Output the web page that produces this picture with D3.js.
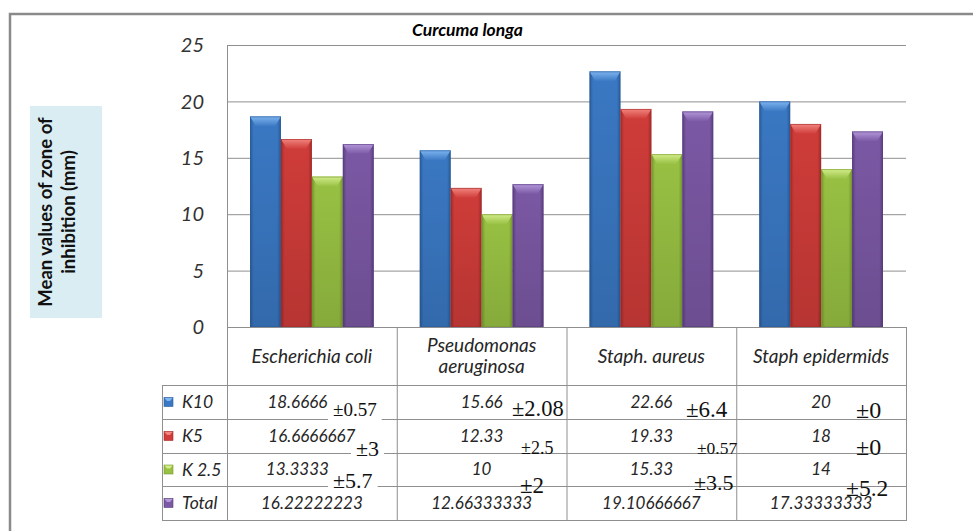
<!DOCTYPE html>
<html><head><meta charset="utf-8">
<script src="https://cdn.jsdelivr.net/npm/d3@7"></script>
<style>
html,body{margin:0;padding:0;background:#fff;overflow:hidden}
svg{display:block}
</style></head>
<body>
<script>
// ---------- data ----------
const categories = ["Escherichia coli", "Pseudomonas aeruginosa", "Staph. aureus", "Staph epidermids"];
const headerLines = [["Escherichia coli"], ["Pseudomonas", "aeruginosa"], ["Staph. aureus"], ["Staph epidermids"]];
const seriesNames = ["K10", "K5", "K 2.5", "Total"];
const k10 = [18.6666, 15.66, 22.66, 20];
const k5 = [16.6666667, 12.33, 19.33, 18];
const k25 = [13.3333, 10, 15.33, 14];
const total = [16.22222223, 12.66333333, 19.10666667, 17.33333333];
// table labels as printed
const k10Labels = ["18.6666", "15.66", "22.66", "20"];
const k5Labels = ["16.6666667", "12.33", "19.33", "18"];
const k25Labels = ["13.3333", "10", "15.33", "14"];
const totalLabels = ["16.22222223", "12.66333333", "19.10666667", "17.33333333"];
// ± annotations (row, column)
const errK10 = ["±0.57", "±2.08", "±6.4", "±0"];
const errK5 = ["±3", "±2.5", "±0.57", "±0"];
const errK25 = ["±5.7", "±2", "±3.5", "±5.2"];
const yTicks = [0, 5, 10, 15, 20, 25];
const titleText = "Curcuma longa";
const yTitle = ["Mean values of zone of", "inhibition (mm)"];

const seriesValues = [k10, k5, k25, total];
const seriesLabels = [k10Labels, k5Labels, k25Labels, totalLabels];
const errRows = [errK10, errK5, errK25];

// ---------- styles / layout ----------
const W = 973, H = 531;
const colors = [
  {base:"#3a78c3", light:"#7fb5f0", dark:"#2a5c99"},
  {base:"#cf3c39", light:"#f2857f", dark:"#a22b29"},
  {base:"#98c143", light:"#d3ec8c", dark:"#76972f"},
  {base:"#7b58a4", light:"#b398da", dark:"#5a3e80"}
];
const plot = {left:227, right:906, top:45, bottom:327};
const legendLeft = 162;
const rowLines = [385, 419, 453, 486, 520];
const gridColor = "#8f8f8f";

const svg = d3.select("body").append("svg").attr("width", W).attr("height", H);
const defs = svg.append("defs");
colors.forEach((c, i) => {
  const g = defs.append("linearGradient").attr("id", "bar" + i).attr("x1", "0").attr("x2", "1").attr("y1", "0").attr("y2", "0");
  g.append("stop").attr("offset", "0").attr("stop-color", c.dark);
  g.append("stop").attr("offset", "0.12").attr("stop-color", c.base);
  g.append("stop").attr("offset", "0.5").attr("stop-color", c.base);
  g.append("stop").attr("offset", "0.88").attr("stop-color", c.base);
  g.append("stop").attr("offset", "1").attr("stop-color", c.dark);
  const v = defs.append("linearGradient").attr("id", "bev" + i).attr("x1", "0").attr("x2", "0").attr("y1", "0").attr("y2", "1");
  v.append("stop").attr("offset", "0").attr("stop-color", c.light);
  v.append("stop").attr("offset", "1").attr("stop-color", c.base);
  const sh = defs.append("linearGradient").attr("id", "shade" + i).attr("x1", "0").attr("x2", "0").attr("y1", "0").attr("y2", "1");
  sh.append("stop").attr("offset", "0").attr("stop-color", "#000").attr("stop-opacity", 0);
  sh.append("stop").attr("offset", "1").attr("stop-color", "#000").attr("stop-opacity", 0.12);
});

// outer chart border (clipped by window on right/bottom)
svg.append("rect").attr("x", 10).attr("y", 14).attr("width", 1100).attr("height", 700)
  .attr("fill", "none").attr("stroke", "#8a8a8a").attr("stroke-width", 2.5);

// scales
const x0 = d3.scaleBand().domain(categories).range([plot.left, plot.right]).padding(0);
const x1 = d3.scaleBand().domain(seriesNames).range([23, x0.bandwidth() - 23]).padding(0);
const y = d3.scaleLinear().domain([0, 25]).range([plot.bottom, plot.top]);

// gridlines
svg.append("g").selectAll("line").data(yTicks).join("line")
  .attr("x1", plot.left).attr("x2", plot.right)
  .attr("y1", d => y(d) + 0.5).attr("y2", d => y(d) + 0.5)
  .attr("stroke", gridColor).attr("stroke-width", 1);

// y axis ticks labels
svg.append("g").selectAll("text").data(yTicks).join("text")
  .attr("x", 204).attr("y", d => y(d)).attr("dy", "0.36em")
  .attr("text-anchor", "end")
  .style("font-family", "Lato").style("font-style", "italic").style("font-size", "20px").attr("fill", "#333")
  .text(d => d);

// bars
const groups = svg.append("g").selectAll("g").data(categories).join("g")
  .attr("transform", d => `translate(${x0(d)},0)`);
groups.each(function(cat, ci) {
  const g = d3.select(this);
  seriesNames.forEach((s, si) => {
    const v = seriesValues[si][ci];
    const bx = x1(s), bw = x1.bandwidth(), by = y(v), bh = y(0) - y(v);
    g.append("rect").attr("x", bx).attr("y", by).attr("width", bw).attr("height", bh)
      .attr("fill", `url(#bar${si})`);
    g.append("rect").attr("x", bx).attr("y", by).attr("width", bw).attr("height", bh)
      .attr("fill", `url(#shade${si})`);
    const bev = 10, ins = 6;
    g.append("polygon")
      .attr("points", [[bx, by], [bx + bw, by], [bx + bw - ins, by + bev], [bx + ins, by + bev]].map(p => p.join(",")).join(" "))
      .attr("fill", `url(#bev${si})`);
    g.append("rect").attr("x", bx + 0.5).attr("y", by + 0.5).attr("width", bw - 1).attr("height", bh - 1)
      .attr("fill", "none").attr("stroke", colors[si].dark).attr("stroke-opacity", 0.6).attr("stroke-width", 1);
  });
});

// title
svg.append("text").attr("x", 412).attr("y", 36)
  .style("font-family", "Lato").style("font-style", "italic").style("font-weight", "bold").style("font-size", "17.5px")
  .attr("fill", "#000").text(titleText);

// y title box
svg.append("rect").attr("x", 30).attr("y", 106).attr("width", 72).attr("height", 212).attr("fill", "#daedf3");
const yt = svg.append("text").attr("transform", "translate(66,212) rotate(-90)")
  .attr("text-anchor", "middle")
  .style("font-family", "Lato").style("font-weight", "bold").style("font-size", "18.5px").attr("fill", "#111");
yTitle.forEach((l, i) => yt.append("tspan").attr("x", 0).attr("y", i === 0 ? -14 : 9).text(l));

// ----- data table -----
const tbl = svg.append("g");
const colEdges = [plot.left, ...categories.map(c => x0(c) + x0.bandwidth())];
colEdges.forEach((xe, i) => {
  tbl.append("line").attr("x1", xe + 0.5).attr("x2", xe + 0.5)
    .attr("y1", i === 0 ? plot.top : plot.bottom).attr("y2", rowLines[4])
    .attr("stroke", gridColor);
});
tbl.append("line").attr("x1", legendLeft + 0.5).attr("x2", legendLeft + 0.5)
  .attr("y1", rowLines[0]).attr("y2", rowLines[4]).attr("stroke", gridColor);
rowLines.forEach(ry => {
  tbl.append("line").attr("x1", legendLeft).attr("x2", plot.right + 1)
    .attr("y1", ry + 0.5).attr("y2", ry + 0.5).attr("stroke", gridColor);
});

const tfont = (sel, fs) => sel.style("font-family", "Lato").style("font-style", "italic").style("font-size", fs + "px").attr("fill", "#262626");

// headers
categories.forEach((c, ci) => {
  const cx = x0(c) + x0.bandwidth() / 2;
  const lines = headerLines[ci];
  const mid = (plot.bottom + rowLines[0]) / 2;
  lines.forEach((l, li) => {
    tfont(tbl.append("text"), 19).attr("x", cx).attr("y", mid + (li - (lines.length - 1) / 2) * 21).attr("dy", "0.35em")
      .attr("text-anchor", "middle").text(l);
  });
});

// legend column
seriesNames.forEach((s, si) => {
  const cy = (rowLines[si] + rowLines[si + 1]) / 2;
  const m = tbl.append("g").attr("transform", `translate(164,${cy - 4.5})`);
  m.append("rect").attr("width", 9).attr("height", 9).attr("fill", colors[si].base).attr("stroke", colors[si].dark).attr("stroke-width", 0.6);
  m.append("polygon").attr("points", "0.5,0.5 8.5,0.5 6,3.5 3,3.5").attr("fill", colors[si].light);
  tfont(tbl.append("text"), 17.5).attr("x", 182).attr("y", cy).attr("dy", "0.35em").text(s);
});

// values
const cellShift = [[-14.5, 0, 0, 0], [0, 0, 0, 0], [-14.5, 0, 0, 0], [0, 0, 0, 0]];
seriesLabels.forEach((labels, si) => {
  const cy = (rowLines[si] + rowLines[si + 1]) / 2;
  labels.forEach((t, ci) => {
    const cx = x0(categories[ci]) + x0.bandwidth() / 2 + cellShift[si][ci];
    tfont(tbl.append("text"), 17).attr("x", cx).attr("y", cy).attr("dy", "0.35em").attr("text-anchor", "middle").text(t);
  });
});

// ± annotations: [x, baseline, font-size, whiteBox]
const errLayout = [
  [[333, 416, 19, true], [512, 416, 22.5, false], [686, 417, 23, false], [856, 418, 24, false]],
  [[356, 456, 22, true], [521, 454, 18, false], [697, 454, 17.5, false], [856, 455, 24, false]],
  [[333, 488, 22, true], [520, 493, 23, false], [694, 490, 22, false], [846, 496, 23.5, false]]
];
errRows.forEach((row, ri) => {
  row.forEach((t, ci) => {
    const [ex, ey, fs, box] = errLayout[ri][ci];
    const txt = tbl.append("text").attr("x", ex).attr("y", ey)
      .style("font-family", "Liberation Serif").style("font-size", fs + "px").attr("fill", "#111").text(t);
    if (box) {
      const bb = txt.node().getBBox();
      tbl.insert("rect", () => txt.node())
        .attr("x", bb.x - 5).attr("y", bb.y + 1).attr("width", bb.width + 10).attr("height", bb.height + 2)
        .attr("fill", "#fff");
    }
  });
});
</script>
</body></html>
